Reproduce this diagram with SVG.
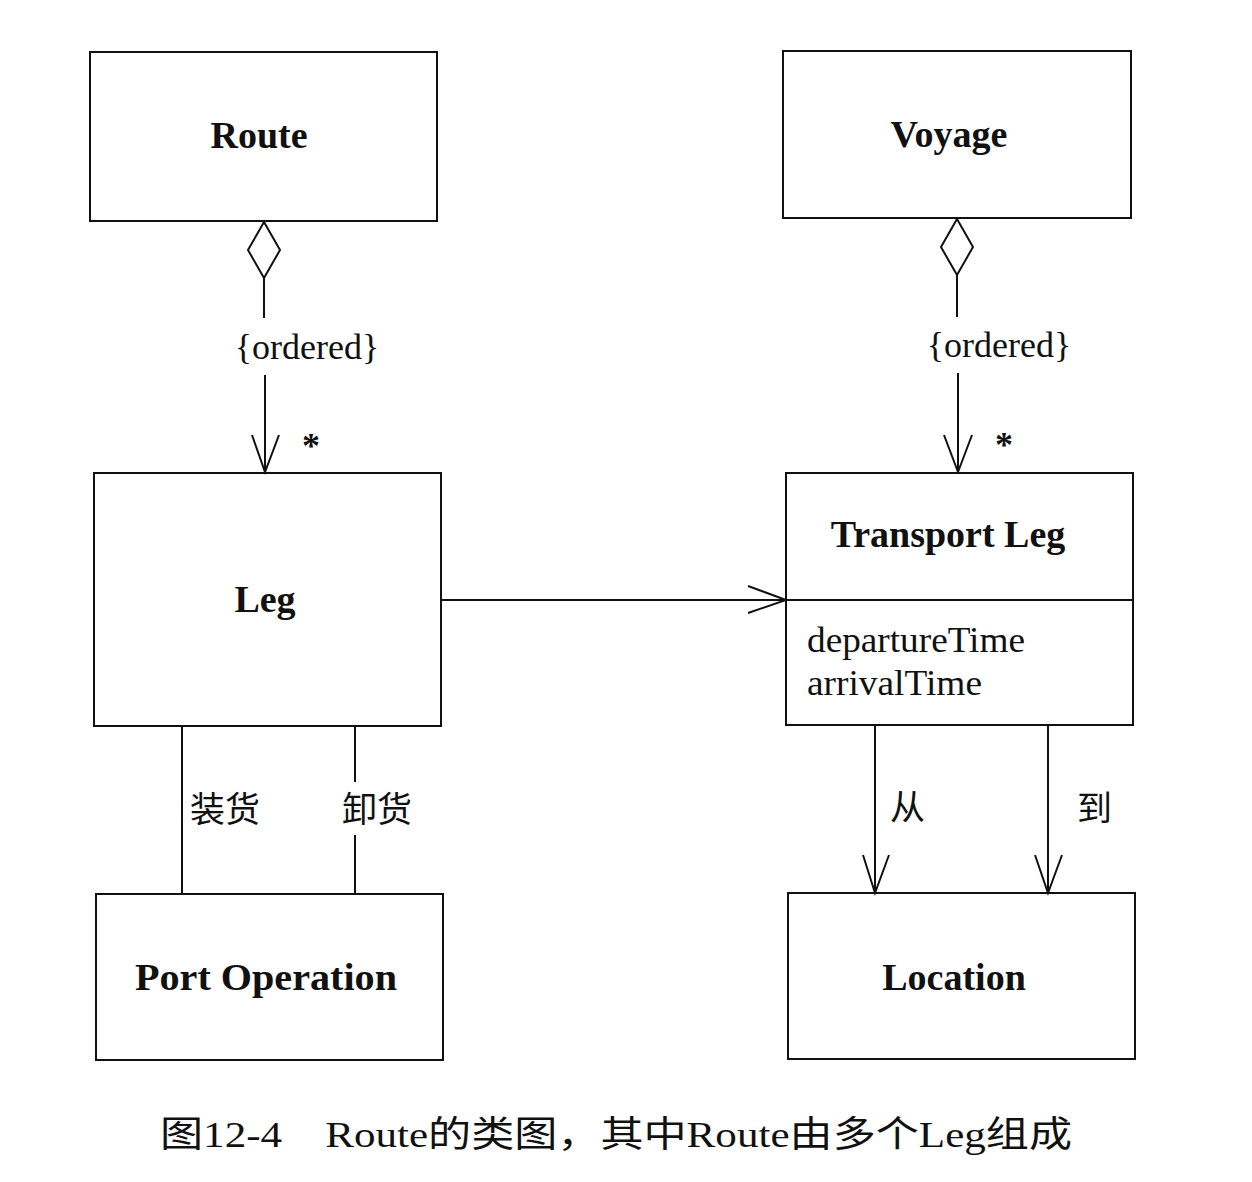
<svg xmlns="http://www.w3.org/2000/svg" width="1252" height="1182" viewBox="0 0 1252 1182">
<style>
.box{fill:#fff;stroke:#111;stroke-width:2}
.ln{fill:none;stroke:#111;stroke-width:2}
.title{font-family:"Liberation Serif","Noto Sans CJK SC",serif;font-weight:bold;font-size:38px;fill:#111;text-anchor:middle}
.lbl{font-family:"Liberation Serif","Noto Sans CJK SC",serif;font-size:36px;fill:#111}
.cjk{font-family:"Noto Sans CJK SC",sans-serif;font-size:35px;fill:#111}
.star{font-family:"Liberation Serif",serif;font-weight:bold;font-size:36px;fill:#111;text-anchor:middle}
</style>
<rect width="1252" height="1182" fill="#fff"/>
<g id="route"><rect class="box" x="90" y="52" width="347" height="169"/><text class="title" x="259" y="148">Route</text></g>
<g id="voyage"><rect class="box" x="783" y="51" width="348" height="167"/><text class="title" x="949" y="147">Voyage</text></g>
<g id="leg"><rect class="box" x="94" y="473" width="347" height="253"/><text class="title" x="265" y="612">Leg</text></g>
<g id="transport-leg"><rect class="box" x="786" y="473" width="347" height="252"/><line class="ln" x1="786" y1="600" x2="1133" y2="600"/><text class="title" x="948" y="547">Transport Leg</text><text class="lbl" x="807" y="652" textLength="218" lengthAdjust="spacingAndGlyphs">departureTime</text><text class="lbl" x="807" y="695" textLength="175" lengthAdjust="spacingAndGlyphs">arrivalTime</text></g>
<g id="port-operation"><rect class="box" x="96" y="894" width="347" height="166"/><text class="title" x="266" y="990" textLength="262" lengthAdjust="spacingAndGlyphs">Port Operation</text></g>
<g id="location"><rect class="box" x="788" y="893" width="347" height="166"/><text class="title" x="954" y="990">Location</text></g>
<g id="connectors">
<polygon class="ln" points="264,222 280,250 264,278 248,250"/>
<line class="ln" x1="264" y1="278" x2="264" y2="318"/>
<line class="ln" x1="265" y1="375" x2="265" y2="472"/>
<polyline class="ln" points="252,435 265,472 279,435"/>
<text class="lbl" x="307" y="359" text-anchor="middle">{ordered}</text>
<text class="star" x="311" y="458">*</text>
<polygon class="ln" points="957,219 973,247 957,275 941,247"/>
<line class="ln" x1="957" y1="275" x2="957" y2="317"/>
<line class="ln" x1="958" y1="373" x2="958" y2="472"/>
<polyline class="ln" points="944,435 958,472 972,435"/>
<text class="lbl" x="999" y="357" text-anchor="middle">{ordered}</text>
<text class="star" x="1004" y="457">*</text>
<line class="ln" x1="441" y1="600" x2="786" y2="600"/>
<polyline class="ln" points="748,586 786,600 748,613"/>
<line class="ln" x1="182" y1="726" x2="182" y2="894"/>
<line class="ln" x1="355" y1="726" x2="355" y2="782"/>
<line class="ln" x1="355" y1="835" x2="355" y2="894"/>
<text class="cjk" x="190" y="822">装货</text>
<text class="cjk" x="342" y="822">卸货</text>
<line class="ln" x1="875" y1="725" x2="875" y2="893"/>
<polyline class="ln" points="863,855 875,893 889,855"/>
<line class="ln" x1="1048" y1="725" x2="1048" y2="893"/>
<polyline class="ln" points="1035,855 1048,893 1062,855"/>
<text class="cjk" x="890" y="820">从</text>
<text class="cjk" x="1077" y="821">到</text>
</g>
<text class="lbl" x="160" y="1147" font-size="38" textLength="912" lengthAdjust="spacingAndGlyphs">图12-4　Route的类图，其中Route由多个Leg组成</text>
</svg>
